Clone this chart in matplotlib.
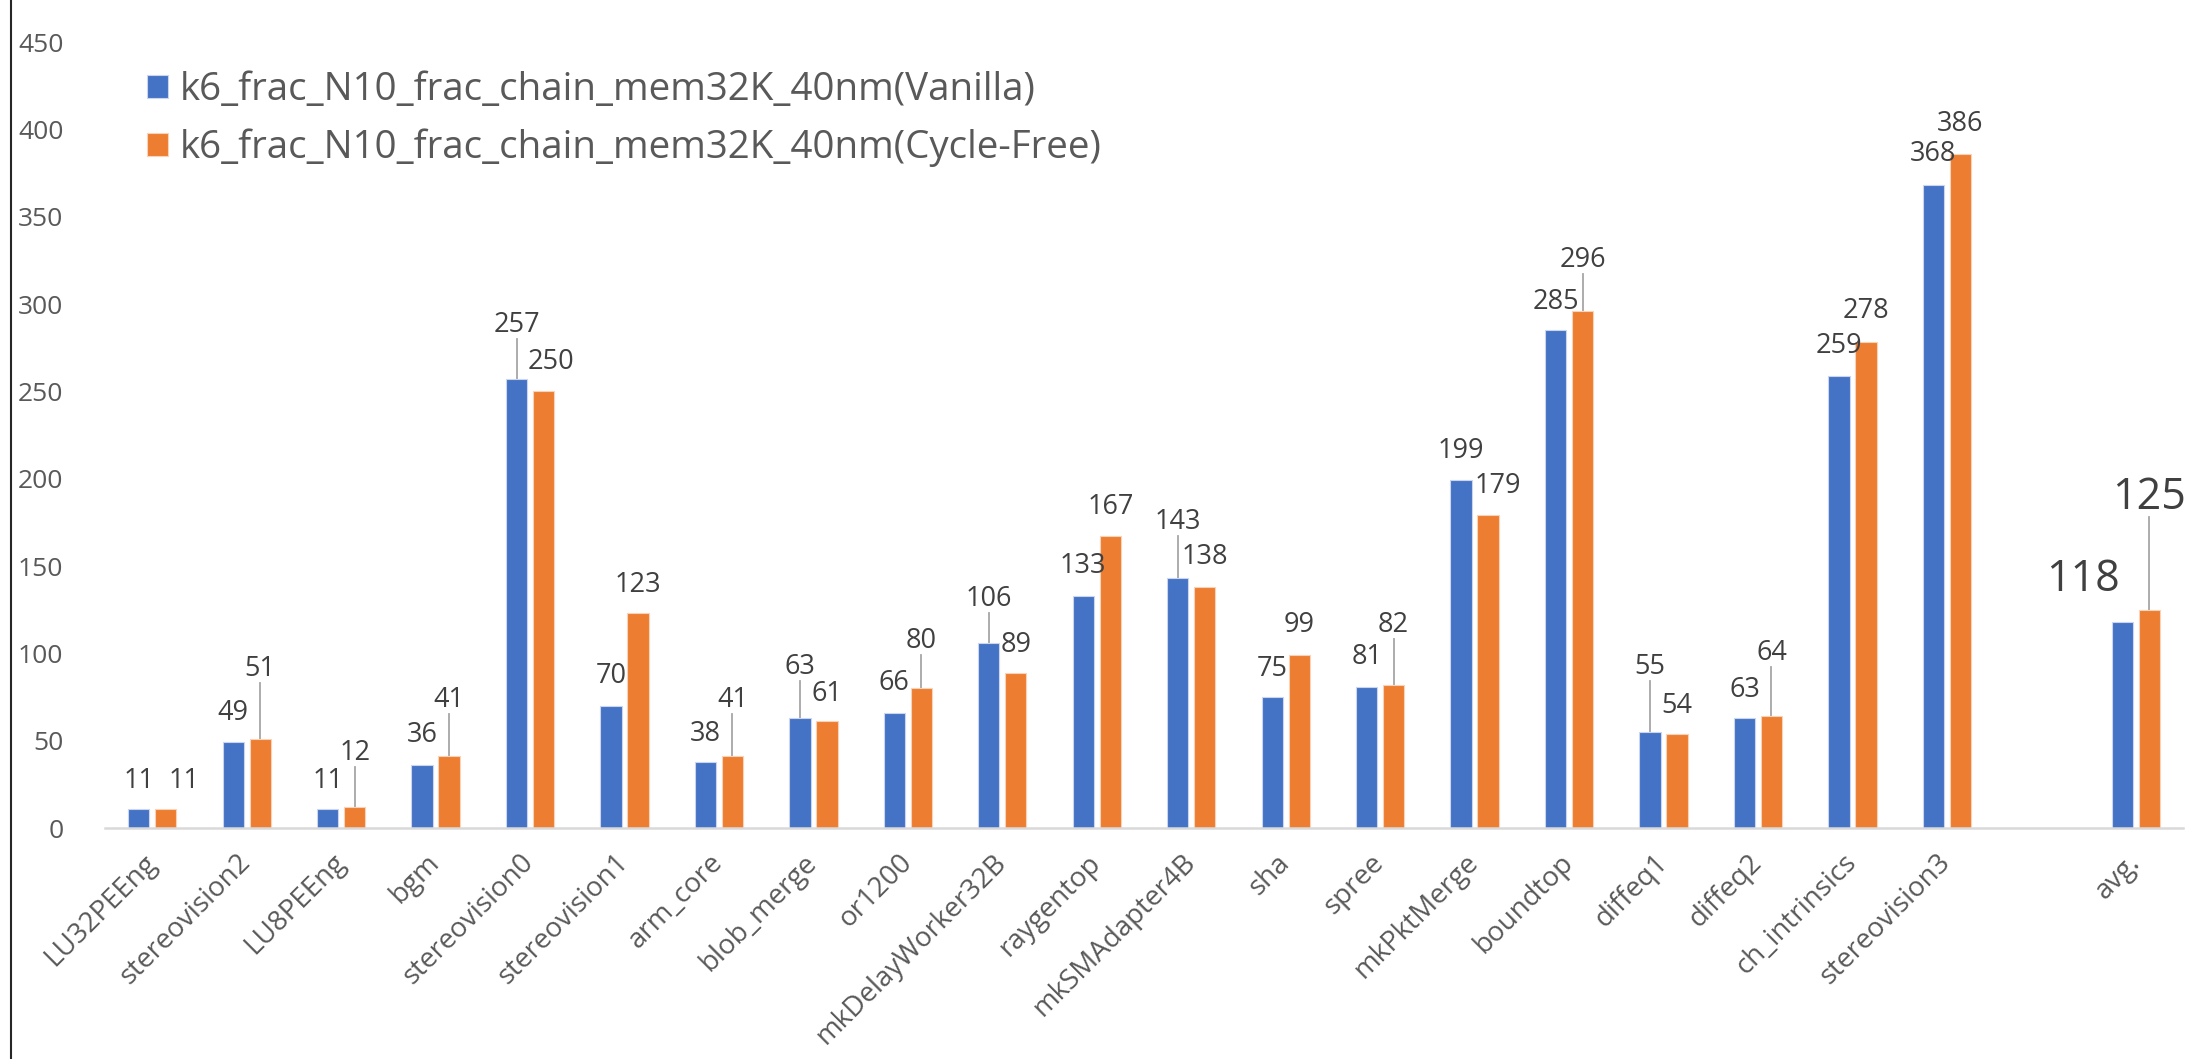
import matplotlib
matplotlib.use("Agg")
import matplotlib.pyplot as plt
from matplotlib.lines import Line2D
import numpy as np

plt.rcParams['font.family'] = ['Open Sans', 'DejaVu Sans']

categories = ['LU32PEEng', 'stereovision2', 'LU8PEEng', 'bgm', 'stereovision0',
              'stereovision1', 'arm_core', 'blob_merge', 'or1200', 'mkDelayWorker32B',
              'raygentop', 'mkSMAdapter4B', 'sha', 'spree', 'mkPktMerge', 'boundtop',
              'diffeq1', 'diffeq2', 'ch_intrinsics', 'stereovision3', 'avg.']
vanilla = [11, 49, 11, 36, 257, 70, 38, 63, 66, 106, 133, 143, 75, 81, 199, 285,
           55, 63, 259, 368, 118]
cycle_free = [11, 51, 12, 41, 250, 123, 41, 61, 80, 89, 167, 138, 99, 82, 179, 296,
              54, 64, 278, 386, 125]
series_names = ['k6_frac_N10_frac_chain_mem32K_40nm(Vanilla)',
                'k6_frac_N10_frac_chain_mem32K_40nm(Cycle-Free)']

# where excel put the data labels (text centre, in value units)
label_y_vanilla = [27, 66, 27, 53, 288, 87, 54, 92, 83, 131, 150, 175, 91, 98, 216, 301,
                   92, 79, 276, 386, 142]
label_y_cf = [27, 91, 43, 73, 267, 139, 73, 77, 107, 105, 184, 155, 116, 116, 196, 325,
              70, 100, 296, 403, 189]

BLUE = '#4472C4'
ORANGE = '#ED7D31'

W, H = 2203, 1059
fig = plt.figure(figsize=(W / 100, H / 100), dpi=100)
ax = fig.add_axes([105 / W, (H - 828) / H, (2183 - 105) / W, (828 - 42) / H])

# avg sits one empty slot after the last benchmark
x = np.arange(len(categories), dtype=float)
x[-1] += 1
bw = 0.225
off = 0.143

ax.bar(x - off, vanilla, bw, color=BLUE, edgecolor='#c9d6ee', linewidth=0.8,
       label=series_names[0], zorder=2)
ax.bar(x + off, cycle_free, bw, color=ORANGE, edgecolor='#f8d3b8', linewidth=0.8,
       label=series_names[1], zorder=2)

ax.set_xlim(-0.5, x[-1] + 0.5)
ax.set_ylim(0, 450)
ax.set_yticks(np.arange(0, 451, 50))
ax.tick_params(axis='y', length=0, pad=30, labelsize=19, labelcolor='#595959')
ax.set_xticks(x)
ax.set_xticklabels(categories, rotation=45, ha='right', va='center',
                   rotation_mode='anchor')
ax.tick_params(axis='x', length=0, pad=22, labelsize=20, labelcolor='#595959')

for s in ['top', 'right', 'left']:
    ax.spines[s].set_visible(False)
ax.spines['bottom'].set_color('#d9d9d9')
ax.spines['bottom'].set_linewidth(1.8)

# small sideways nudges excel made so labels don't collide
nudge = {(0, 1): 0.19, (20, 0): -0.42, (14, 1): 0.1, (4, 1): 0.08}

n = len(categories)
for i in range(n):
    for k, (xs, v, ly) in enumerate([(x[i] - off, vanilla[i], label_y_vanilla[i]),
                                     (x[i] + off, cycle_free[i], label_y_cf[i])]):
        big = (i == n - 1)
        fs = 31 if big else 19.5
        half = 9 if big else 6
        ax.text(xs + nudge.get((i, k), 0), ly, str(v), ha='center', va='center',
                fontsize=fs, color='#404040', zorder=3)
        if ly - half - v > 18:
            ax.plot([xs, xs], [v, ly - half - 2], color='#a6a6a6', lw=1.3, zorder=1)

leg = ax.legend(loc='upper left', bbox_to_anchor=(128 / W, 1 - 52 / H),
                bbox_transform=fig.transFigure, frameon=False, fontsize=27.7,
                handlelength=0.55, handleheight=0.55, handletextpad=0.3,
                labelspacing=0.5, borderpad=0)
for t in leg.get_texts():
    t.set_color('#595959')

fig.add_artist(Line2D([11 / W, 11 / W], [0, 1], color='#262626', lw=1.5))

fig.savefig('out.png', dpi=100)
